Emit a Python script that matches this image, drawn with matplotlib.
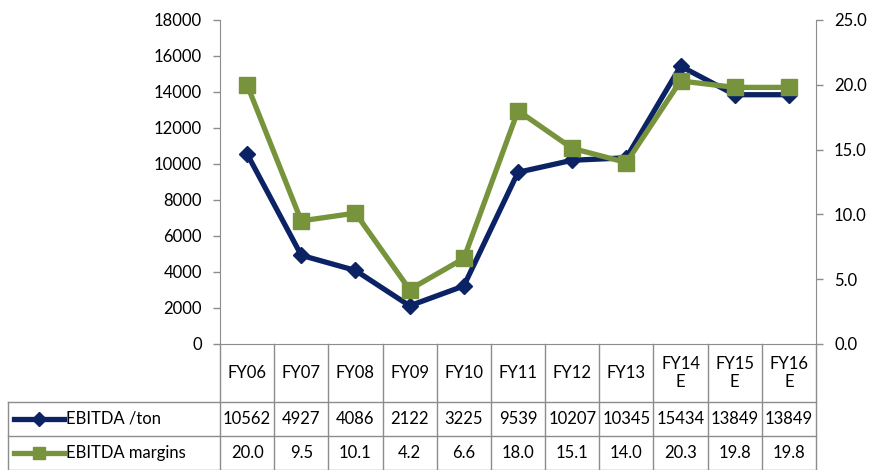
import numpy as np
import matplotlib.pyplot as plt
from matplotlib import transforms

plt.rcParams['font.family'] = ['Lato', 'DejaVu Sans']

# Data
years = ["FY06", "FY07", "FY08", "FY09", "FY10", "FY11", "FY12", "FY13", "FY14\nE", "FY15\nE", "FY16\nE"]
ebitda_ton = [10562, 4927, 4086, 2122, 3225, 9539, 10207, 10345, 15434, 13849, 13849]
ebitda_margin = [20.0, 9.5, 10.1, 4.2, 6.6, 18.0, 15.1, 14.0, 20.3, 19.8, 19.8]

navy = "#0B2265"
green = "#77933C"
grid_c = "#8C8C8C"

W, H = 879, 470
fig = plt.figure(figsize=(W / 100, H / 100), dpi=100)
x0, x1, ytop, ybot = 220, 816, 20, 344
ax = fig.add_axes([x0 / W, 1 - ybot / H, (x1 - x0) / W, (ybot - ytop) / H])
ax2 = ax.twinx()

x = np.arange(len(years))
ax.plot(x, ebitda_ton, color=navy, lw=3.8, marker="D", ms=8, zorder=3)
ax2.plot(x, ebitda_margin, color=green, lw=3.8, marker="s", ms=11, zorder=4)

ax.set_xlim(-0.5, len(years) - 0.5)
ax.set_ylim(0, 18000)
ax.set_yticks(range(0, 18001, 2000))
ax2.set_ylim(0, 25)
ax2.set_yticks(np.arange(0, 25.1, 5))
ax2.set_yticklabels([f"{v:.1f}" for v in np.arange(0, 25.1, 5)])
ax.set_xticks([])

for a in (ax, ax2):
    for s in a.spines.values():
        s.set_visible(False)
    a.tick_params(axis="y", length=5, width=1, color=grid_c, labelsize=12, pad=8,
                  labelcolor="#000000")
ax.spines["left"].set_visible(True)
ax.spines["left"].set_color(grid_c)
ax2.spines["right"].set_visible(True)
ax2.spines["right"].set_color(grid_c)
ax.spines["bottom"].set_visible(True)
ax.spines["bottom"].set_color(grid_c)

# Data table beneath the axis
tr = transforms.blended_transform_factory(ax.transData, fig.transFigure)
trf = fig.transFigure
def fy(py):
    return 1 - py / H

rows_y = [344, 402, 436, 470]
lw_t = 1.0
for i in range(len(years) + 1):
    ax.plot([i - 0.5, i - 0.5], [fy(344), fy(470)], transform=tr, color=grid_c,
            lw=lw_t, clip_on=False)
fig.add_artist(plt.Line2D([8 / W, 8 / W], [fy(402), fy(470)], color=grid_c, lw=lw_t))
for py in rows_y[1:]:
    fig.add_artist(plt.Line2D([8 / W, x1 / W], [fy(py), fy(py)], color=grid_c, lw=lw_t))

for i, lab in enumerate(years):
    ax.text(i, fy(373), lab, transform=tr, ha="center", va="center", fontsize=12,
            linespacing=1.1)
    ax.text(i, fy(419), str(ebitda_ton[i]), transform=tr, ha="center", va="center",
            fontsize=12)
    ax.text(i, fy(453), f"{ebitda_margin[i]:.1f}", transform=tr, ha="center",
            va="center", fontsize=12)

# Legend keys inside the table
for py, col, mk, ms, name in [(419, navy, "D", 7, "EBITDA /ton"),
                              (453, green, "s", 9, "EBITDA margins")]:
    fig.add_artist(plt.Line2D([14 / W, 64 / W], [fy(py), fy(py)], color=col, lw=3.8))
    fig.add_artist(plt.Line2D([39 / W], [fy(py)], color=col, marker=mk, ms=ms, lw=0))
    fig.text(66 / W, fy(py), name, ha="left", va="center", fontsize=12)

fig.savefig("out.png", dpi=100)
